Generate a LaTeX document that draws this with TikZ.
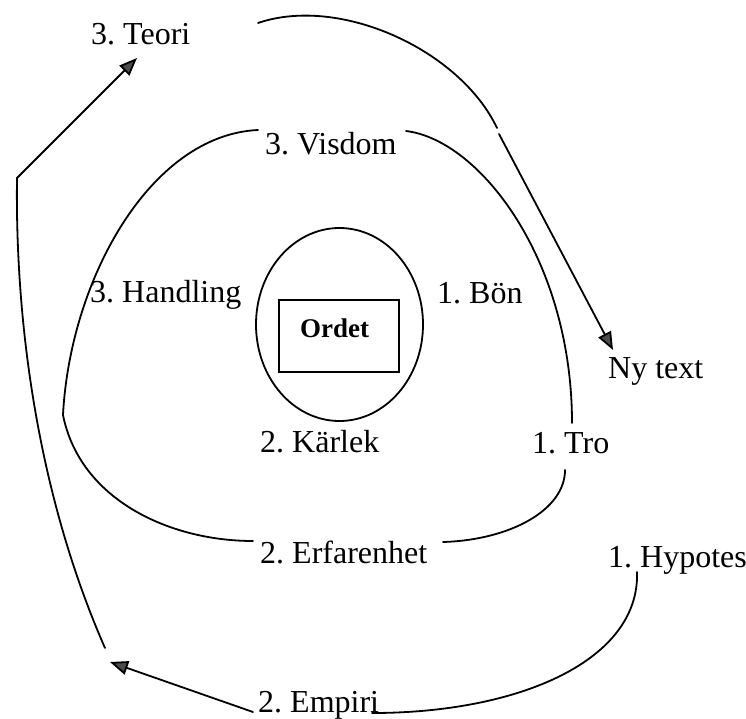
\documentclass[tikz,border=0pt]{standalone}
\usepackage{fontspec}
\setmainfont{Liberation Serif}
\frenchspacing
\usetikzlibrary{arrows.meta,shapes.geometric}
\tikzset{
  lbl/.style={anchor=base west, inner sep=0pt, font=\fontsize{32}{38}\selectfont},
  curve/.style={line width=1.8pt, line cap=round},
  arr/.style={curve, -{Triangle[length=18pt,width=14pt,fill=black!70]}},
}
\begin{document}
\begin{tikzpicture}[x=1pt,y=-1pt]
\useasboundingbox (0,0) rectangle (746,719);
% texts
\node[lbl] (teori) at (91,45) {3. Teori};
\node[lbl] (visdom) at (265,155) {3. Visdom};
\node[lbl] (handling) at (90,302) {3. Handling};
\node[lbl] (bon) at (437,303) {1. Bön};
\node[lbl] (nytext) at (608,378) {Ny text};
\node[lbl] (karlek) at (260,452) {2. Kärlek};
\node[lbl] (tro) at (532,453) {1. Tro};
\node[lbl] (erf) at (260,563) {2. Erfarenhet};
\node[lbl] (hyp) at (608,567) {1. Hypotes};
\node[lbl] (emp) at (258,712) {2. Empiri};
% centre
\node[draw, line width=1.8pt, ellipse, minimum width=167pt, minimum height=193pt, inner sep=0pt] (ell) at (339.5,324.5) {};
\node[draw, line width=1.8pt, minimum width=120pt, minimum height=72pt, inner sep=0pt] (box) at (339,336) {};
\node[anchor=base west, inner sep=0pt, font=\fontsize{27}{30}\selectfont\bfseries] (ordet) at (300,337) {Ordet};
% coordinates
\coordinate (t1) at (258,23);
\coordinate (t2) at (497,128);
\coordinate (t3) at (499,134);
\coordinate (ny) at (613,350);
\coordinate (l1) at (105,648);
\coordinate (l2) at (17,178);
\coordinate (tp) at (137,58);
\coordinate (e1) at (253,712);
\coordinate (e2) at (110,662);
\coordinate (h1) at (372,713);
\coordinate (h2) at (637,572);
\coordinate (v1) at (258,130);
\coordinate (lm) at (63,415);
\coordinate (f1) at (253,541);
\coordinate (v2) at (406,131);
\coordinate (r1) at (572,423);
\coordinate (f2) at (443,542);
\coordinate (r2) at (565,470);
% outer
\draw[curve] (t1) .. controls (340,-5) and (460,50) .. (t2);
\draw[arr] (t3) -- (ny);
\draw[arr] (l1) .. controls (40,500) and (15,330) .. (l2) -- (tp);
\draw[arr] (e1) -- (e2);
\draw[curve] (h1) .. controls (520,713) and (640,660) .. (h2);
% inner loop
\draw[curve] (v1) .. controls (150,135) and (70,280) .. (lm);
\draw[curve] (lm) .. controls (80,500) and (170,541) .. (f1);
\draw[curve] (v2) .. controls (480,140) and (572,260) .. (r1);
\draw[curve] (f2) .. controls (510,540) and (565,510) .. (r2);
\end{tikzpicture}
\end{document}
